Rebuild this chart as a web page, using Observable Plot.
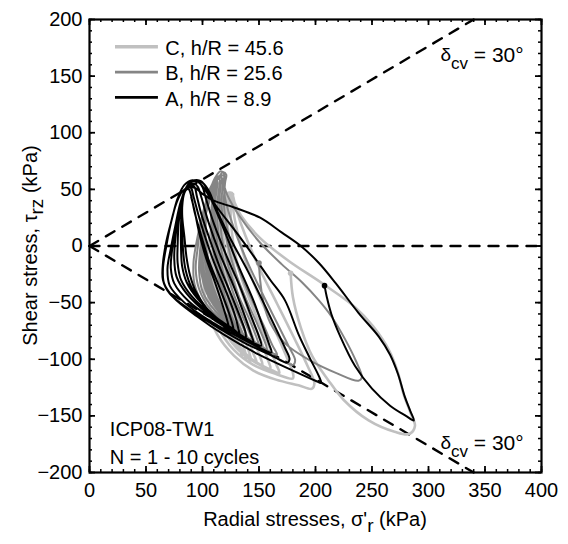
<!DOCTYPE html>
<html><head><meta charset="utf-8">
<script src="https://cdn.jsdelivr.net/npm/d3@7"></script>
<script src="https://cdn.jsdelivr.net/npm/@observablehq/plot@0.6"></script>
<style>
body{margin:0;background:#fff}
#chart svg{font-family:"Liberation Sans",Arial,sans-serif}
</style>
</head><body><div id="chart"></div>
<script>
// ---- Data (sigma'_r, tau_rz) in kPa ----
const loopsA = [
  [[208,-35],[210,-45],[214,-60],[222,-80],[235,-106],[250,-126],[266,-141],[280,-150],[287,-154],[284,-146],[279,-133],[273,-113],[266,-96],[256,-80],[238,-59],[218,-33],[203,-15],[187,0],[170,12],[151,25],[128,34],[110,40],[100,46]],
  [[94,51],[88,52],[82,48],[77,38],[72,20],[68,0],[65,-20],[66,-33],[74,-45],[95,-62],[120,-79],[150,-96],[180,-110],[200,-119],[205,-121],[203,-115],[195,-99],[185,-78],[173,-48],[160,-30],[146,-10],[130,12],[113,34],[104,47]],
  [[102,50],[97,56],[91,58],[84,54],[78,42],[73,24],[68,4],[65,-15],[65,-30],[71,-42],[90,-57],[115,-73],[140,-87],[160,-96],[175,-103],[177,-100],[173,-90],[165,-73],[154,-50],[140,-22],[125,6],[112,33],[106,48]],
  [[100,56],[94,58],[87,53],[81,40],[76,18],[72,-2],[69,-20],[71,-35],[84,-50],[108,-67],[133,-81],[153,-91],[161,-94],[159,-87],[153,-70],[145,-48],[132,-18],[120,12],[110,36],[104,50]],
  [[99,57],[93,58],[86,51],[80,36],[76,16],[73,-4],[72,-20],[75,-33],[88,-49],[110,-65],[133,-79],[148,-87],[152,-88],[150,-80],[143,-62],[134,-38],[121,-8],[110,20],[103,42],[100,52]],
  [[96,57],[89,56],[83,46],[79,27],[76,7],[75,-11],[77,-27],[86,-42],[105,-60],[128,-75],[141,-83],[145,-85],[143,-78],[136,-58],[127,-34],[115,-6],[105,22],[99,43],[96,52]],
  [[93,55],[86,52],[82,41],[79,21],[78,1],[78,-15],[81,-30],[91,-45],[110,-62],[128,-74],[138,-82],[138,-76],[133,-62],[125,-42],[115,-18],[106,7],[99,28],[95,44],[93,52]],
  [[90,54],[85,50],[82,38],[81,18],[81,-2],[82,-18],[86,-32],[96,-47],[112,-63],[126,-73],[133,-80],[132,-74],[128,-59],[120,-38],[110,-14],[102,9],[96,29],[92,44],[90,51]],
  [[88,52],[84,47],[82,34],[82,14],[83,-6],[85,-21],[90,-36],[100,-51],[115,-66],[125,-74],[128,-78],[127,-71],[122,-55],[114,-34],[105,-11],[98,12],[93,30],[90,44],[88,50]],
  [[86,50],[83,44],[82,28],[84,8],[86,-11],[89,-26],[94,-40],[105,-57],[117,-69],[124,-76],[123,-70],[118,-53],[111,-32],[103,-10],[97,12],[93,31],[90,43]]
];
const loopsB = [
  [[150,-15],[151,-30],[154,-50],[160,-68],[173,-86],[195,-101],[218,-112],[238,-119],[241,-116],[236,-102],[226,-82],[214,-62],[203,-48],[188,-32],[170,-16],[150,4],[133,26],[122,45],[118,57]],
  [[116,62],[112,60],[106,48],[100,28],[95,5],[92,-15],[93,-34],[101,-52],[118,-70],[143,-87],[166,-99],[180,-105],[182,-101],[176,-88],[166,-68],[152,-40],[138,-10],[127,18],[120,42],[119,56]],
  [[119,64],[116,66],[111,60],[105,44],[99,22],[96,0],[94,-20],[97,-38],[107,-56],[126,-72],[148,-86],[163,-95],[166,-96],[162,-88],[154,-70],[143,-46],[131,-18],[123,10],[119,36],[120,56]],
  [[121,63],[118,65],[113,58],[107,42],[101,20],[98,-2],[97,-22],[100,-40],[111,-57],[130,-74],[148,-86],[157,-92],[156,-87],[149,-70],[139,-48],[128,-20],[121,8],[117,34],[118,55]],
  [[119,62],[115,62],[110,54],[104,37],[100,15],[98,-5],[99,-24],[104,-42],[116,-60],[134,-77],[147,-86],[151,-90],[149,-84],[142,-66],[132,-44],[123,-18],[117,8],[115,34],[116,54]],
  [[117,60],[113,60],[108,51],[103,33],[100,12],[99,-8],[101,-27],[107,-45],[120,-63],[136,-78],[144,-86],[146,-88],[143,-80],[135,-61],[126,-38],[119,-14],[114,12],[113,36],[115,54]],
  [[115,59],[111,57],[106,47],[102,30],[100,10],[100,-10],[103,-30],[110,-48],[123,-65],[136,-79],[142,-86],[139,-79],[131,-60],[123,-38],[116,-14],[112,12],[111,36],[113,53]],
  [[113,57],[109,55],[105,45],[102,28],[101,8],[102,-12],[105,-31],[113,-50],[126,-67],[135,-78],[139,-85],[136,-78],[128,-60],[120,-38],[114,-14],[110,12],[110,36],[112,52]],
  [[112,56],[108,53],[104,43],[102,26],[102,6],[103,-13],[107,-33],[115,-52],[127,-68],[133,-78],[136,-84],[133,-77],[125,-60],[118,-38],[112,-14],[109,12],[109,35],[111,51]],
  [[111,55],[107,51],[104,41],[103,24],[103,4],[105,-16],[109,-35],[117,-54],[127,-70],[134,-83],[131,-76],[123,-59],[116,-37],[111,-13],[108,12],[108,34],[110,50]]
];
const loopsC = [
  [[178,-24],[180,-45],[187,-72],[197,-97],[211,-118],[225,-136],[247,-154],[270,-164],[283,-166],[288,-159],[284,-147],[278,-131],[273,-112],[265,-92],[251,-71],[235,-54],[206,-33],[176,-13],[151,7],[134,27],[127,41]],
  [[123,46],[118,43],[112,28],[106,8],[102,-12],[101,-33],[104,-55],[113,-78],[128,-97],[145,-110],[165,-118],[185,-123],[197,-126],[199,-121],[193,-106],[181,-81],[166,-51],[151,-21],[138,9],[130,32],[127,44]],
  [[126,47],[121,46],[115,33],[109,12],[105,-8],[104,-28],[106,-50],[114,-72],[128,-92],[145,-105],[165,-113],[180,-117],[180,-112],[174,-97],[164,-74],[151,-46],[139,-16],[131,12],[127,34],[127,45]],
  [[127,46],[122,45],[116,32],[111,12],[108,-8],[107,-28],[109,-50],[117,-71],[130,-90],[147,-103],[162,-110],[168,-112],[165,-104],[157,-84],[146,-58],[135,-30],[128,-2],[125,25],[125,40]],
  [[125,44],[120,42],[115,28],[111,8],[109,-12],[109,-32],[112,-54],[121,-74],[135,-93],[150,-104],[160,-108],[158,-101],[151,-82],[141,-58],[131,-30],[125,-2],[122,24],[123,40]],
  [[123,43],[118,40],[114,26],[111,6],[110,-14],[111,-34],[115,-56],[124,-76],[137,-94],[148,-103],[153,-105],[151,-98],[144,-79],[135,-55],[127,-27],[122,0],[120,24],[121,39]],
  [[121,42],[117,38],[113,24],[111,4],[111,-16],[113,-36],[117,-57],[126,-78],[138,-95],[148,-103],[145,-95],[138,-76],[130,-52],[123,-25],[119,2],[118,25],[120,39]],
  [[120,41],[116,37],[113,22],[112,2],[112,-18],[115,-38],[119,-60],[128,-80],[137,-95],[143,-101],[141,-93],[134,-74],[126,-50],[120,-23],[117,3],[117,25],[119,38]],
  [[119,40],[115,35],[113,20],[113,0],[114,-20],[117,-40],[122,-62],[130,-82],[136,-95],[139,-99],[137,-91],[130,-72],[123,-48],[118,-22],[116,4],[116,25],[118,37]],
  [[118,39],[115,34],[114,18],[114,-2],[115,-22],[119,-42],[124,-63],[131,-83],[135,-97],[133,-89],[127,-70],[120,-46],[116,-20],[115,5],[115,26],[117,36]]
];
const seriesNames = ["C, h/R = 45.6", "B, h/R = 25.6", "A, h/R = 8.9"];
const seriesColors = ["#c0c0c0", "#858585", "#000000"];
const seriesWidths = [2.6, 2.0, 2];
const seriesLoops = [loopsC, loopsB, loopsA];
const startPoints = [[178,-24],[150,-15],[208,-35]];

// reference lines (delta_cv = 30 deg) and zero line
const cvUpper = [[0,0],[340,200]];
const cvLower = [[0,0],[340,-200]];
const zeroLine = [[0,0],[400,0]];
const cvLabelPos = [[311,162.5],[311,-180]];

const xTicks = [0,50,100,150,200,250,300,350,400];
const yTicks = [-200,-150,-100,-50,0,50,100,150,200];
const xMinor = d3.range(0, 401, 10);
const yMinor = d3.range(-200, 201, 10);

const notes = ["ICP08-TW1", "N = 1 - 10 cycles"];

// ---- layout ----
const W = 568, H = 544;
const mL = 89, mR = 27, mT = 19, mB = 72;
const ux = 400 / (W - mL - mR);   // data units per px
const uy = 400 / (H - mT - mB);
const minorLen = 3, majorLen = 6;

const lineRows = seriesLoops.flatMap((loops, i) =>
  loops.flat().map(([x, y]) => ({x, y, s: i})));
const startRows = startPoints.map(([x, y], i) => ({x, y, s: i}));
const legendRows = seriesNames.map((name, i) => ({name, s: i, y: 176 - i * 22.4}));
const noteRows = notes.map((t, i) => ({t, y: -162 - i * 24.5}));

const plot = Plot.plot({
  width: W, height: H,
  marginLeft: mL, marginRight: mR, marginTop: mT, marginBottom: mB,
  style: {fontFamily: '"Liberation Sans", Arial, sans-serif', fontSize: "20px", color: "#000", background: "#fff"},
  x: {domain: [0, 400]},
  y: {domain: [-200, 200]},
  marks: [
    Plot.axisX(xTicks, {tickSize: 0, tickPadding: 10, fontSize: 20, label: null}),
    Plot.axisY(yTicks, {tickSize: 0, tickPadding: 7, fontSize: 20, label: null}),
    // reference dashed lines
    Plot.line(zeroLine, {x: d => d[0], y: d => d[1], stroke: "#000", strokeWidth: 2.4, strokeDasharray: "10,9"}),
    Plot.line(cvUpper, {x: d => d[0], y: d => d[1], stroke: "#000", strokeWidth: 2.4, strokeDasharray: "10,9"}),
    Plot.line(cvLower, {x: d => d[0], y: d => d[1], stroke: "#000", strokeWidth: 2.4, strokeDasharray: "10,9"}),
    // loops
    Plot.line(lineRows, {x: "x", y: "y", z: "s", stroke: d => seriesColors[d.s],
      strokeWidth: d => seriesWidths[d.s], curve: "catmull-rom", strokeLinejoin: "round"}),
    Plot.dot(startRows, {x: "x", y: "y", r: 2.8, fill: d => seriesColors[d.s], stroke: "none"}),
    // legend
    Plot.ruleY(legendRows, {y: "y", x1: 23, x2: 61, stroke: d => seriesColors[d.s], strokeWidth: d => seriesWidths[d.s] + 0.8}),
    Plot.text(legendRows, {x: 67, y: "y", text: "name", textAnchor: "start", dy: 2, fontSize: 20, fill: "#000"}),
    Plot.text(noteRows, {x: 18, y: "y", text: "t", textAnchor: "start", fontSize: 20, fill: "#000"}),
    // minor + major ticks, inward on all four sides
    Plot.ruleX(xMinor, {x: d => d, y1: -200, y2: -200 + minorLen * uy, stroke: "#000", strokeWidth: 1.5}),
    Plot.ruleX(xMinor, {x: d => d, y1: 200, y2: 200 - minorLen * uy, stroke: "#000", strokeWidth: 1.5}),
    Plot.ruleY(yMinor, {y: d => d, x1: 0, x2: minorLen * ux, stroke: "#000", strokeWidth: 1.5}),
    Plot.ruleY(yMinor, {y: d => d, x1: 400, x2: 400 - minorLen * ux, stroke: "#000", strokeWidth: 1.5}),
    Plot.ruleX(xTicks, {x: d => d, y1: -200, y2: -200 + majorLen * uy, stroke: "#000", strokeWidth: 1.8}),
    Plot.ruleX(xTicks, {x: d => d, y1: 200, y2: 200 - majorLen * uy, stroke: "#000", strokeWidth: 1.8}),
    Plot.ruleY(yTicks, {y: d => d, x1: 0, x2: majorLen * ux, stroke: "#000", strokeWidth: 1.8}),
    Plot.ruleY(yTicks, {y: d => d, x1: 400, x2: 400 - majorLen * ux, stroke: "#000", strokeWidth: 1.8}),
    Plot.frame({stroke: "#000", strokeWidth: 2.2})
  ]
});

const svg = d3.select(plot);
const sx = plot.scale("x"), sy = plot.scale("y");

// delta_cv labels with subscripts
function cvLabel([xv, yv]) {
  const t = svg.append("text").attr("x", sx.apply(xv)).attr("y", sy.apply(yv))
    .attr("text-anchor", "start").attr("font-size", 20).attr("fill", "#000");
  t.append("tspan").attr("font-size", 19).text("δ");
  t.append("tspan").attr("dy", 8).attr("font-size", 17).text("cv");
  t.append("tspan").attr("dy", -7).attr("font-size", 21).text(" = 30°");
}
cvLabelPos.forEach(cvLabel);

// axis titles with subscripts
const xl = svg.append("text").attr("x", mL + (W - mL - mR) / 2).attr("y", 526)
  .attr("text-anchor", "middle").attr("font-size", 20).attr("fill", "#000");
xl.append("tspan").text("Radial stresses, σ'");
xl.append("tspan").attr("dy", 6).attr("font-size", 19).text("r");
xl.append("tspan").attr("dy", -6).text(" (kPa)");

const yl = svg.append("text").attr("transform", `translate(37,${mT + (H - mT - mB) / 2}) rotate(-90)`)
  .attr("text-anchor", "middle").attr("font-size", 20).attr("fill", "#000");
yl.append("tspan").text("Shear stress, τ");
yl.append("tspan").attr("dy", 6).attr("font-size", 19).text("rz");
yl.append("tspan").attr("dy", -6).text(" (kPa)");

document.getElementById("chart").appendChild(plot);
</script>
</body></html>
